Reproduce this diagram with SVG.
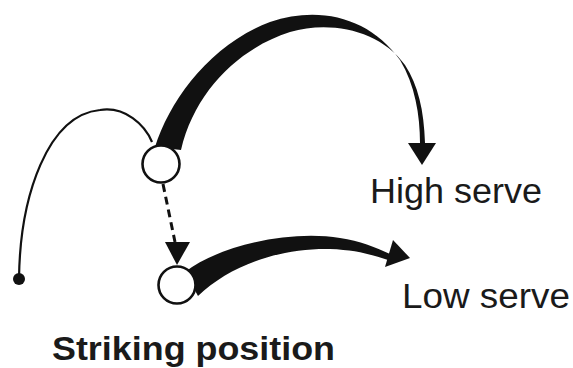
<svg xmlns="http://www.w3.org/2000/svg" width="573" height="368" viewBox="0 0 573 368">
<style>
.lbl{font-family:"Liberation Sans",Arial,Helvetica,sans-serif;fill:#1a1a1a}
.pos{fill:#fff;stroke:#111;stroke-width:2.6}
.ink{fill:#111}
.thin{fill:none;stroke:#111;stroke-width:2.2}
.dash{fill:none;stroke:#111;stroke-width:3;stroke-dasharray:8 5}
</style>
<rect width="573" height="368" fill="#fff"/>
<g id="connectors">
<path class="thin" d="M19,279 C20,195 48,115 100,110 C125,106 145,125 152,142"/>
<path class="ink" d="M155,147 C170,100 210,45 270,22 C320,5 370,18 400,60 C415,85 420,115 420,143 L425,143 C424,110 418,85 405,65 C380,30 330,20 290,32 C240,48 195,90 181,150 Z"/>
<polygon class="ink" points="408,143 436,143 422,165"/>
<path class="ink" d="M185,272 C220,245 290,230 340,238 C360,241 375,247 390,254 L388,260 C370,254 355,250 330,249 C280,248 230,265 198,296 Z"/>
<polygon class="ink" points="393,240 410,258 385,267"/>
<path class="dash" d="M163,184 L175,242"/>
<polygon class="ink" points="165,242 190,242 177,265"/>
</g>
<g id="start">
<circle class="ink" cx="19" cy="279" r="6"/>
</g>
<g id="upper-position">
<circle class="pos" cx="161" cy="164" r="18.5"/>
</g>
<g id="lower-position">
<circle class="pos" cx="177" cy="285" r="18.5"/>
</g>
<g id="high-serve">
<text class="lbl" x="370" y="203" font-size="35" textLength="172" lengthAdjust="spacingAndGlyphs">High serve</text>
</g>
<g id="low-serve">
<text class="lbl" x="402" y="308" font-size="35" textLength="168" lengthAdjust="spacingAndGlyphs">Low serve</text>
</g>
<g id="striking-position">
<text class="lbl" x="52" y="360" font-size="33" font-weight="bold" textLength="283" lengthAdjust="spacingAndGlyphs">Striking position</text>
</g>
</svg>
